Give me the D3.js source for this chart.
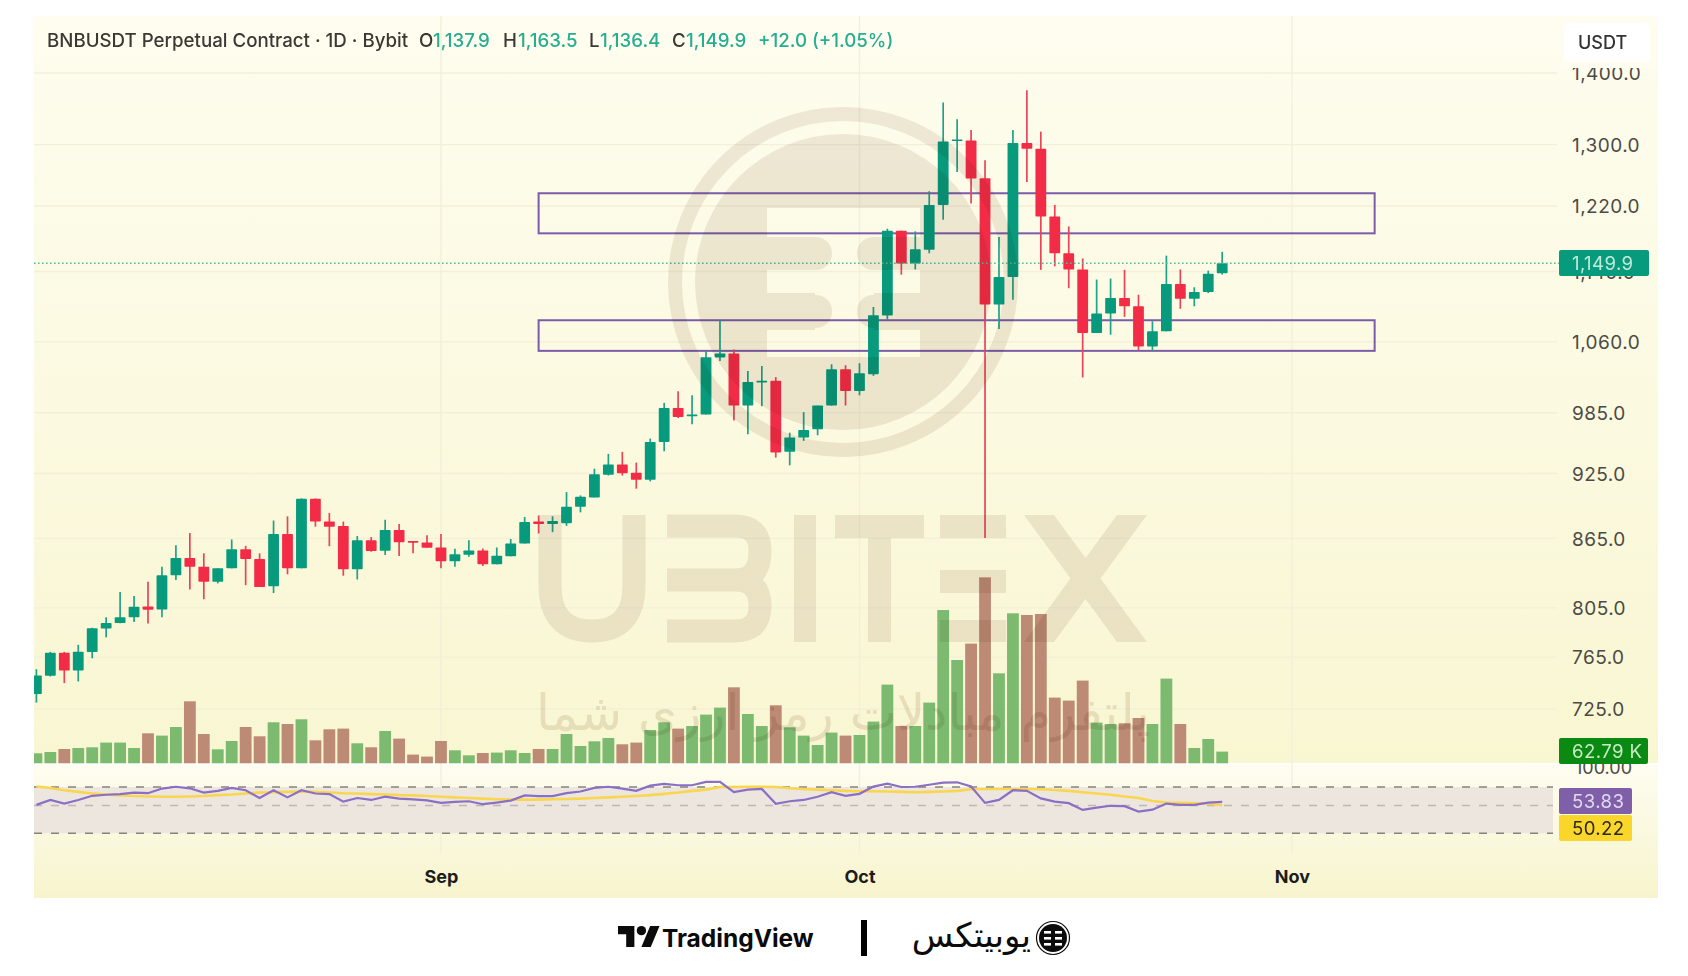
<!DOCTYPE html>
<html><head><meta charset="utf-8">
<script src="https://cdn.jsdelivr.net/npm/d3@7"></script>
<style>html,body{margin:0;padding:0;background:#fff}svg{display:block;font-family:Inter,"Noto Sans",sans-serif}</style>
</head><body><svg id="c" width="1688" height="976"></svg>
<script>
const opens=[736.3,750.4,768.4,754.5,769,788,792.4,797.2,806.1,803.6,832.5,847.6,840,827,838.6,855.2,846.7,823.2,868.8,838.6,901.2,880.2,876.2,837.8,863.3,854,872.5,862.6,861.3,856.9,844.7,850.5,854.3,842.1,849.1,860.4,880.2,877.9,878.7,893.7,902.4,923.8,933.6,925.7,919.1,955.8,990,981.4,983.3,1043.1,1047.3,992.4,1016.4,1018.1,946,960.1,968.3,992.4,1030.4,1007.5,1025.2,1089.3,1189.2,1149.5,1165.9,1221.4,1305.1,1305.6,1255.4,1101.7,1133.6,1302.3,1294.4,1206.8,1161.8,1142.5,1069.8,1091.5,1109.2,1099.7,1055,1071.6,1125.3,1108.4,1116,1137.9];
const highs=[755.5,769.2,769.2,774.8,788.6,797.2,818.3,814.9,827,840,858.9,869.8,851.7,838.6,864,858.3,851.7,881.1,884.9,901.5,901.5,888,880.2,867.1,866.2,881.8,877.9,862.6,867.8,868.8,855.7,863.3,856,856.9,864.4,884.4,885.7,885,907.4,904.3,929.6,944,946,935.5,959.1,995.2,1007.2,1003,1049.8,1084,1051.6,1028.6,1033.9,1022,965,985.7,992.4,1035.7,1034.7,1036.8,1099,1191.7,1189.2,1188.4,1238.8,1357.9,1334.7,1319.8,1279,1181.5,1319.8,1375.4,1317.6,1221.4,1194.5,1155.6,1130.6,1131.8,1142,1113,1082.9,1158.9,1142.5,1121.6,1141.1,1163.5];
const lows=[729.8,749.8,744.7,746,764,780.8,792.2,793.2,792,797.2,828.5,820.4,812.2,825.6,838.6,824.1,822.6,817.4,833.4,838.6,875.5,858,832.2,829,853.1,850.2,849.3,851.7,856.6,838.6,840,848.7,840.6,842.1,849.1,860.4,869.4,870.6,876.2,888.6,902.4,923.1,923.1,910.6,917.5,946.6,979.8,973.5,983.3,1039.2,977.1,963.4,991.7,940.4,932.9,956.8,962.4,992.4,992.4,1003,1023.4,1084.8,1136.3,1142.5,1161.8,1202.8,1263.7,1223.3,865.3,1074.3,1107.3,1250.6,1142,1146.2,1120.5,1021.7,1069.8,1067.9,1087.8,1050.8,1049.8,1071.6,1096.9,1099.8,1114.9,1136.4];
const closes=[750.6,768.4,754.5,769.2,788.2,792.4,797.2,805.9,803.4,832.5,847.6,840,827,838.6,855.2,846.7,822.6,868.8,838.6,901.2,880.2,875.5,837.8,863.3,853.7,872.5,861.5,861.5,856.6,844.7,850.8,854.3,842.1,849.6,860.4,879.7,877.9,880.7,893.7,903.1,924.3,933.6,925.3,919.1,955.8,990,980.8,983.3,1043.4,1047.3,992.4,1017,1018.1,945.3,960.1,967.6,992.4,1030.4,1007.5,1026.2,1089.6,1189.2,1149.5,1166.7,1221.4,1304.1,1306.9,1255.1,1101.7,1133.6,1302.3,1294.4,1206.8,1161.8,1142.5,1069.8,1091.5,1109.2,1099.7,1055,1071.6,1125.3,1108.4,1116,1137.4,1149.9];
const volumes=[53.7,60.7,76.8,82.2,85.9,111.2,111.2,82.2,161.1,148.7,194.9,332.9,157.3,75.2,119.8,194.9,145,220.2,211,236.3,123.5,182.6,186.3,107.4,85.9,173.5,132.6,46.7,36,119.8,69.8,43,55.3,57.5,69.8,55.3,76.8,76.8,157.3,92.9,118.1,135.9,102,111.2,178.8,220.2,186.3,200.3,261.5,299.1,408.1,264.7,200.3,311.5,193.3,148.7,98.3,164.9,148.7,152,223.9,422.6,200.3,200.3,326,823.2,554.7,642.8,998.8,483.3,805.5,796.4,801.8,352.8,336.7,444.1,218.6,211,214.8,243.3,211,454.8,211,82.2,130.5,62.79];
const rsi=[50.7,56,52.1,56,60.5,61.6,62.3,64,63.3,68.3,70.4,68.6,64,65.8,69,66.5,58.1,66.5,58.8,66.5,63,62.3,54.2,58.1,56,59.5,57.4,56.7,55.6,52.8,53.9,54.6,51.4,53.2,55.3,60.9,60.2,60.2,63.3,65.1,69,70.4,68.3,65.8,72.1,74.9,72.8,72.8,78.1,78.1,64.4,67.2,67.9,51.8,54.6,56,59.5,64.4,60.5,62.6,70.7,75.3,70,70.4,73.5,77,77.4,70.7,52.8,56,66.5,65.8,57.7,54.2,52.5,46.8,48.5,49.8,49.5,45.6,47,52.1,50.7,50.7,53.2,53.83];
const rsiMa=[70.7,69,66.5,64.7,63,61.9,60.9,60.2,59.8,59.5,59.5,59.8,60.2,61.2,61.9,63,64,64.4,64.7,65.1,64.7,64,63.3,63,62.3,61.9,61.2,60.9,60.2,59.5,58.8,58.1,57.4,56.7,56.3,56.3,56.3,56.7,57,57.4,58.1,58.8,59.5,60.2,61.2,62.6,64,65.8,67.2,70,70,70.4,70.4,70,68.6,67.9,67.2,66.5,65.8,65.4,65.4,65.1,64.7,64.4,64.7,65.1,65.8,67.6,67.9,67.9,67.9,67.9,67.6,66.8,65.8,64.4,63,61.6,59.8,58.1,54.9,53.2,52.8,52.5,52.1,50.22];
const priceTicks=[1400,1300,1220,1140,1060,985,925,865,805,765,725];
const monthIndex=[29,59,90];
const monthLabels=["Sep","Oct","Nov"];
const zones=[[1236.2,1186],[1084,1050.2]];
const zoneFrom=36, zoneTo=96;
const rsiLevels=[70,50,30];
const lastPrice=1149.9;

const W=1688,H=976,L=34,R=1658,T=16,B=898,PR=1557;
const svg=d3.select("#c");
const x=d3.scaleLinear().domain([-0.172,116.24]).range([L,R]);
const y=d3.scaleLog().domain([725,1400]).range([709,73]);
const yVol=d3.scaleLinear().domain([0,1000]).range([763.3,577.1]);
const yRsi=d3.scaleLinear().domain([30,50,70,100]).range([833.3,805.5,787,768]);
const GREEN="#089a7c",RED="#f22c46";

const defs=svg.append("defs");
function grad(id,a,b){const g=defs.append("linearGradient").attr("id",id).attr("x1",0).attr("x2",0).attr("y1",0).attr("y2",1);
 g.append("stop").attr("offset",0).attr("stop-color",a);g.append("stop").attr("offset",1).attr("stop-color",b);}
grad("g1","#fefdef","#f9f6d2");grad("g2","#fefdf0","#f7f4cd");
defs.append("clipPath").attr("id","plot").append("rect").attr("x",L).attr("y",T).attr("width",PR-L).attr("height",B-T);
const m=defs.append("mask").attr("id","logo").attr("maskUnits","userSpaceOnUse").attr("x",600).attr("y",60).attr("width",500).attr("height",440);
m.append("rect").attr("x",600).attr("y",60).attr("width",500).attr("height",440).attr("fill","#000");
m.append("circle").attr("cx",843).attr("cy",282).attr("r",168).attr("fill","none").attr("stroke","#fff").attr("stroke-width",14);
m.append("circle").attr("cx",843).attr("cy",282).attr("r",148).attr("fill","#fff");
[[767,208,153,29],[767,270,153,23],[767,330,153,27],[815,237,59,33],[815,293,59,37]].forEach(r=>m.append("rect").attr("x",r[0]).attr("y",r[1]).attr("width",r[2]).attr("height",r[3]).attr("fill","#000"));
[[760,237,72,33],[857,237,70,33],[760,295,72,33],[857,295,70,33]].forEach(r=>m.append("rect").attr("x",r[0]).attr("y",r[1]).attr("width",r[2]).attr("height",r[3]).attr("rx",16).attr("fill","#fff"));

// panes
svg.append("rect").attr("x",L).attr("y",T).attr("width",R-L).attr("height",763-T).attr("fill","url(#g1)");
svg.append("rect").attr("x",L).attr("y",765).attr("width",R-L).attr("height",B-765).attr("fill","url(#g2)");

// grid
const grid=svg.append("g").attr("stroke","#f3efd9").attr("stroke-width",1.4);
grid.selectAll("line.h").data(priceTicks).join("line").attr("x1",L).attr("x2",PR).attr("y1",d=>y(d)).attr("y2",d=>y(d));
grid.selectAll("line.v").data(monthIndex).join("line").attr("x1",d=>x(d)).attr("x2",d=>x(d)).attr("y1",T).attr("y2",853);

// axes
const ax=svg.append("g").attr("transform","translate(1572,0)").call(d3.axisRight(y).tickValues(priceTicks).tickSize(0).tickPadding(0).tickFormat(d3.format(",.1f")));
ax.select(".domain").remove();
ax.selectAll("text").attr("font-size",19).attr("letter-spacing",0.45).attr("fill","#4b4a45").attr("font-family","Inter").attr("dy","0.36em");
const ax2=svg.append("g").attr("transform","translate(1575,0)").call(d3.axisRight(yRsi).tickValues([100]).tickSize(0).tickPadding(0).tickFormat(d3.format(".2f")));
ax2.select(".domain").remove();
ax2.selectAll("text").attr("font-size",18).attr("fill","#4b4a45").attr("font-family","Inter").attr("dy","0.33em");
const ax3=svg.append("g").attr("transform","translate(0,870)").call(d3.axisBottom(x).tickValues(monthIndex).tickSize(0).tickPadding(0).tickFormat((d,i)=>monthLabels[i]));
ax3.select(".domain").remove();
ax3.selectAll("text").attr("font-size",18).attr("font-weight",700).attr("fill","#1c1c1a").attr("font-family","Inter");

// RSI pane
svg.append("rect").attr("x",L).attr("width",1553-L).attr("y",yRsi(70)).attr("height",yRsi(30)-yRsi(70)).attr("fill","#ece6df");
svg.selectAll("line.lvl").data(rsiLevels).join("line").attr("x1",L).attr("x2",1553).attr("y1",d=>yRsi(d)).attr("y2",d=>yRsi(d))
 .attr("stroke",d=>d===50?"#bdb9b0":"#86827c").attr("stroke-width",1.6).attr("stroke-dasharray","8 9");
const plot=svg.append("g").attr("clip-path","url(#plot)");
const idx=d3.range(opens.length);
const rl=d3.line().x((d,i)=>x(i)).y(d=>yRsi(d));
plot.append("path").attr("d",rl(rsiMa)).attr("fill","none").attr("stroke","#f9d64f").attr("stroke-width",2.6);
plot.append("path").attr("d",rl(rsi)).attr("fill","none").attr("stroke","#8a6fc4").attr("stroke-width",2.2);

// zones
plot.selectAll("rect.zone").data(zones).join("rect").attr("x",x(zoneFrom)).attr("width",x(zoneTo)-x(zoneFrom)-1)
 .attr("y",d=>y(d[0])).attr("height",d=>y(d[1])-y(d[0])).attr("fill","none").attr("stroke","#7b5cab").attr("stroke-width",2);

// last price line
svg.append("line").attr("x1",L).attr("x2",1559).attr("y1",y(lastPrice)).attr("y2",y(lastPrice)).attr("stroke","#5cb89a").attr("stroke-width",1.5).attr("stroke-dasharray","1.6 2.4");

// volume
const up=i=>closes[i]>=opens[i];
plot.selectAll("rect.vol").data(idx).join("rect").attr("x",i=>x(i)-5.9).attr("width",11.8)
 .attr("y",i=>yVol(volumes[i])).attr("height",i=>yVol(0)-yVol(volumes[i])).attr("fill",i=>up(i)?"#7cba70":"#bc8a75");

// candles
plot.selectAll("line.wick").data(idx).join("line").attr("x1",i=>x(i)).attr("x2",i=>x(i)).attr("y1",i=>y(highs[i])).attr("y2",i=>y(lows[i]))
 .attr("stroke",i=>up(i)?"#1fa287":"#e8455a").attr("stroke-width",1.7);
plot.selectAll("rect.body").data(idx).join("rect").attr("x",i=>x(i)-5.4).attr("width",10.8)
 .attr("y",i=>y(Math.max(opens[i],closes[i]))).attr("height",i=>Math.max(1.6,Math.abs(y(opens[i])-y(closes[i]))))
 .attr("rx",0.8).attr("fill",i=>up(i)?GREEN:RED);

// watermark
const wm=svg.append("g").style("mix-blend-mode","multiply");
const WM="#efeae6";
wm.append("rect").attr("x",600).attr("y",60).attr("width",500).attr("height",440).attr("fill",WM).attr("mask","url(#logo)");
const sw=23;
const st=wm.append("g").attr("fill","none").attr("stroke",WM).attr("stroke-width",sw);
st.append("path").attr("d","M550,515 V585 Q550,631 592,631 Q634,631 634,585 V515");
st.append("path").attr("d","M667,526 H735 Q760,526 760,551 Q760,580 735,580 H667 M735,580 Q760,580 760,606 Q760,631 735,631 H667");
wm.append("g").attr("fill",WM).selectAll("rect").data([[794,515,22,127],[835,515,89,23],[868,515,23,127],[940,515,66,23],[940,570,66,23],[940,620,66,22]]).join("rect")
 .attr("x",d=>d[0]).attr("y",d=>d[1]).attr("width",d=>d[2]).attr("height",d=>d[3]);
wm.append("path").attr("fill",WM).attr("d","M1024,515 H1054 L1147,642 H1117 Z M1117,515 H1147 L1054,642 H1024 Z");
wm.append("text").attr("x",843).attr("y",730).attr("text-anchor","middle").attr("direction","rtl").attr("font-family","DejaVu Sans").attr("font-size",50).attr("fill","#ece6de").text("پلتفرم مبادلات رمز ارزی شما");

// header
const hdr=svg.append("g").attr("font-size",18.7).attr("font-family","Inter").attr("font-weight",500);
const hy=47;
hdr.append("text").attr("x",47).attr("y",hy).attr("fill","#3a3935").text("BNBUSDT Perpetual Contract · 1D · Bybit");
const hlabels=[["O",419,"1,137.9",433],["H",503,"1,163.5",518],["L",589,"1,136.4",600],["C",672,"1,149.9",686]];
hlabels.forEach(d=>{hdr.append("text").attr("x",d[1]).attr("y",hy).attr("fill","#3a3935").text(d[0]);
 hdr.append("text").attr("x",d[3]).attr("y",hy).attr("fill","#27ae92").text(d[2]);});
hdr.append("text").attr("x",758).attr("y",hy).attr("fill","#27ae92").text("+12.0 (+1.05%)");

// USDT box
svg.append("rect").attr("x",1560).attr("y",17).attr("width",96).attr("height",51).attr("fill","#fefdef");
svg.append("rect").attr("x",1564).attr("y",23).attr("width",86).attr("height",39).attr("rx",6).attr("fill","#fff");
svg.append("text").attr("x",1578).attr("y",49).attr("font-size",18).attr("font-family","Inter").attr("font-weight",500).attr("fill","#333").text("USDT");

// value tags
const tags=[[1559,250,90,26,"#089a7c","#bfeadb","1,149.9",1572],[1559,738,89,26,"#0a8a12","#c8ebc4","62.79 K",1572],[1559,788,73,26,"#7e5fa8","#e3d8f0","53.83",1572],[1559,815,73,26,"#fbd62a","#2b2a20","50.22",1572]];
tags.forEach(t=>{svg.append("rect").attr("x",t[0]).attr("y",t[1]).attr("width",t[2]).attr("height",t[3]).attr("rx",2).attr("fill",t[4]);
 svg.append("text").attr("x",t[7]).attr("y",t[1]+19.5).attr("font-size",18.6).attr("letter-spacing",0.4).attr("font-family","Inter").attr("fill",t[5]).text(t[6]);});

// footer
const tv=svg.append("g").attr("transform","translate(618,926) scale(1.17)");
tv.append("path").attr("d","M14 18H7V7H0V0h14v18zM28 18h-8L27.5 0h8L28 18z").attr("fill","#0b0b0b");
tv.append("circle").attr("cx",20).attr("cy",4).attr("r",4).attr("fill","#0b0b0b");
svg.append("text").attr("x",662).attr("y",947).attr("font-size",24.5).attr("font-weight",700).attr("font-family","Inter").attr("fill","#0b0b0b").text("TradingView");
svg.append("rect").attr("x",861).attr("y",920).attr("width",6).attr("height",36).attr("fill","#000");
svg.append("text").attr("x",1031).attr("y",947).attr("text-anchor","start").attr("direction","rtl").attr("font-family","DejaVu Sans").attr("font-size",34).attr("fill","#0b0b0b").text("یوبیتکس");
svg.append("circle").attr("cx",1053).attr("cy",938).attr("r",16.5).attr("fill","#fff").attr("stroke","#0b0b0b").attr("stroke-width",1.2);
svg.append("circle").attr("cx",1053).attr("cy",938).attr("r",14).attr("fill","#0b0b0b");
[[1044,931,7,2.6],[1044,937,7,2.6],[1044,943,7,2.6],[1055,931,7,2.6],[1055,937,7,2.6],[1055,943,7,2.6]].forEach(r=>svg.append("rect").attr("x",r[0]).attr("y",r[1]).attr("width",r[2]).attr("height",r[3]).attr("fill","#fff"));
</script></body></html>
